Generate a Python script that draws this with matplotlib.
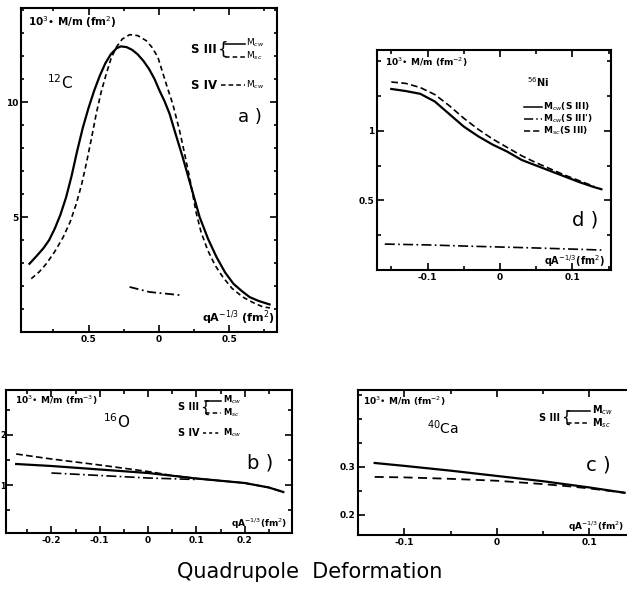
import matplotlib
matplotlib.use("Agg")
import matplotlib.pyplot as plt
from matplotlib.ticker import MultipleLocator

plt.rcParams['font.family'] = ['DejaVu Sans']

# ---------------- data ----------------
# panel a) 12C
a_cw3_x = [-0.92, -0.87, -0.82, -0.78, -0.74, -0.70, -0.66, -0.62, -0.58, -0.54, -0.50,
           -0.46, -0.42, -0.38, -0.34, -0.30, -0.27, -0.23, -0.19, -0.15, -0.11, -0.07,
           -0.03, 0.005, 0.04, 0.076, 0.12, 0.17, 0.23, 0.29, 0.35, 0.41, 0.47, 0.53, 0.59,
           0.645, 0.71, 0.787]
a_cw3_y = [2.97, 3.30, 3.65, 4.0, 4.5, 5.1, 5.85, 6.8, 7.9, 8.9, 9.75,
           10.5, 11.15, 11.7, 12.1, 12.35, 12.43, 12.4, 12.28, 12.08, 11.8, 11.45,
           11.0, 10.5, 10.05, 9.5, 8.6, 7.6, 6.3, 5.0, 4.05, 3.26, 2.6, 2.10, 1.78,
           1.52, 1.35, 1.2]
a_cw4_x = [-0.907, -0.85, -0.80, -0.74, -0.68, -0.63, -0.587, -0.55, -0.516, -0.48, -0.445,
           -0.41, -0.374, -0.34, -0.303, -0.26, -0.208, -0.15, -0.09, -0.05, -0.007, 0.052,
           0.10, 0.147, 0.18, 0.218, 0.265, 0.30, 0.348, 0.40, 0.455, 0.52, 0.597, 0.67,
           0.74, 0.79]
a_cw4_y = [2.32, 2.62, 2.97, 3.5, 4.13, 4.8, 5.58, 6.4, 7.32, 8.4, 9.5,
           10.45, 11.23, 11.9, 12.39, 12.75, 12.94, 12.9, 12.68, 12.4, 11.96, 10.8,
           9.9, 8.77, 7.85, 6.74, 5.2, 4.35, 3.55, 2.9, 2.39, 1.9, 1.52, 1.28,
           1.09, 1.05]
a_sc3_x = [-0.208, -0.066, 0.16]
a_sc3_y = [1.96, 1.74, 1.60]
a_xticks = [-0.5, 0.0, 0.5]
a_xticklabels = ["0.5", "0", "0.5"]
a_yticks = [5, 10]
a_yticklabels = ["5", "10"]

# panel d) 56Ni
d_x = [-0.15, -0.13, -0.11, -0.09, -0.07, -0.05, -0.03, -0.01, 0.01, 0.03, 0.05, 0.07, 0.09, 0.11, 0.13, 0.14]
d_cw3_y = [1.30, 1.285, 1.265, 1.21, 1.12, 1.03, 0.96, 0.90, 0.85, 0.79, 0.75, 0.71, 0.67, 0.63, 0.595, 0.58]
d_sc3_x = [-0.15, -0.13, -0.11, -0.09, -0.07, -0.05, -0.03, -0.01, 0.01, 0.03, 0.05, 0.07, 0.09, 0.11, 0.13]
d_sc3_y = [1.35, 1.34, 1.31, 1.26, 1.18, 1.09, 1.01, 0.94, 0.88, 0.82, 0.77, 0.725, 0.68, 0.64, 0.60]
d_cwp_x = [-0.159, -0.10, -0.05, 0.00, 0.05, 0.10, 0.142]
d_cwp_y = [0.186, 0.18, 0.172, 0.165, 0.158, 0.15, 0.143]
d_xticks = [-0.1, 0.0, 0.1]
d_xticklabels = ["-0.1", "0", "0.1"]
d_yticks = [0.5, 1.0]
d_yticklabels = ["0.5", "1"]

# panel b) 16O
b_cw3_x = [-0.273, -0.2, -0.1, 0.0, 0.1, 0.2, 0.25, 0.28]
b_cw3_y = [1.42, 1.38, 1.31, 1.24, 1.13, 1.04, 0.95, 0.86]
b_sc3_x = [-0.273, -0.2, -0.1, 0.0, 0.05, 0.1, 0.2, 0.25, 0.28]
b_sc3_y = [1.62, 1.52, 1.40, 1.27, 1.19, 1.13, 1.04, 0.95, 0.86]
b_cw4_x = [-0.2, -0.1, 0.0, 0.1]
b_cw4_y = [1.24, 1.19, 1.14, 1.11]
b_xticks = [-0.2, -0.1, 0.0, 0.1, 0.2]
b_xticklabels = ["-0.2", "-0.1", "0", "0.1", "0.2"]
b_yticks = [1, 2]
b_yticklabels = ["1", "2"]

# panel c) 40Ca
c_cw3_x = [-0.132, -0.1, -0.05, 0.0, 0.05, 0.1, 0.138]
c_cw3_y = [0.308, 0.302, 0.292, 0.281, 0.270, 0.257, 0.246]
c_sc3_x = [-0.132, -0.1, -0.05, 0.0, 0.05, 0.08, 0.1, 0.138]
c_sc3_y = [0.279, 0.278, 0.275, 0.271, 0.264, 0.259, 0.255, 0.246]
c_xticks = [-0.1, 0.0, 0.1]
c_xticklabels = ["-0.1", "0", "0.1"]
c_yticks = [0.2, 0.3]
c_yticklabels = ["0.2", "0.3"]

# ---------------- figure ----------------
fig = plt.figure(figsize=(6.27, 5.90), dpi=100)

LW = 1.6
SP = 1.5
TICKFS = 6.5


def style(ax):
    for s in ax.spines.values():
        s.set_linewidth(SP)
    ax.tick_params(which='both', direction='in', top=True, right=True, width=1.2,
                   labelsize=TICKFS, pad=2)
    ax.tick_params(which='major', length=5)
    ax.tick_params(which='minor', length=3)
    for lab in ax.get_xticklabels() + ax.get_yticklabels():
        lab.set_fontweight('bold')


def legend_line(ax, x0, x1, y, ls):
    ax.plot([x0, x1], [y, y], color='black', lw=1.1, ls=ls, transform=ax.transAxes, clip_on=False)


# ---- panel a ----
axa = fig.add_axes([0.0335, 0.4373, 0.4083, 0.5491])
axa.plot(a_cw3_x, a_cw3_y, color='black', lw=LW)
axa.plot(a_cw4_x, a_cw4_y, color='black', lw=1.2, ls=(0, (3, 2)))
axa.plot(a_sc3_x, a_sc3_y, color='black', lw=1.3, ls=(0, (5, 2, 1, 2)))
axa.set_xlim(-0.98, 0.84)
axa.set_ylim(0, 14.1)
axa.set_xticks(a_xticks)
axa.set_xticklabels(a_xticklabels)
axa.set_yticks(a_yticks)
axa.set_yticklabels(a_yticklabels)
axa.xaxis.set_minor_locator(MultipleLocator(0.25))
axa.yaxis.set_minor_locator(MultipleLocator(1))
style(axa)
axa.tick_params(which='minor', length=2.5)
axa.text(0.027, 0.958, "10$^3$• M/m (fm$^2$)", transform=axa.transAxes, fontsize=7.5,
         fontweight='bold', va='center')
axa.text(0.10, 0.77, "$^{12}$C", transform=axa.transAxes, fontsize=11, va='center')
axa.text(0.765, 0.872, "S III", transform=axa.transAxes, fontsize=8.5, fontweight='bold',
         va='center', ha='right')
axa.text(0.768, 0.872, "{", transform=axa.transAxes, fontsize=12, va='center')
legend_line(axa, 0.795, 0.875, 0.89, '-')
legend_line(axa, 0.795, 0.875, 0.85, (0, (3, 2)))
axa.text(0.88, 0.893, "M$_{cw}$", transform=axa.transAxes, fontsize=6.5, va='center')
axa.text(0.88, 0.852, "M$_{sc}$", transform=axa.transAxes, fontsize=6.5, va='center')
axa.text(0.765, 0.762, "S IV", transform=axa.transAxes, fontsize=8.5, fontweight='bold',
         va='center', ha='right')
legend_line(axa, 0.78, 0.875, 0.762, (0, (3, 2)))
axa.text(0.88, 0.764, "M$_{cw}$", transform=axa.transAxes, fontsize=6.5, va='center')
axa.text(0.895, 0.664, "a )", transform=axa.transAxes, fontsize=13, ha='center', va='center')
axa.text(0.99, 0.045, "qA$^{-1/3}$ (fm$^2$)", transform=axa.transAxes, fontsize=8,
         fontweight='bold', ha='right', va='center')

# ---- panel d ----
axd = fig.add_axes([0.601, 0.5424, 0.3732, 0.3729])
axd.plot(d_x, d_cw3_y, color='black', lw=LW)
axd.plot(d_sc3_x, d_sc3_y, color='black', lw=1.2, ls=(0, (4, 2)))
axd.plot(d_cwp_x, d_cwp_y, color='black', lw=1.2, ls=(0, (6, 2, 1, 2)))
axd.set_xlim(-0.17, 0.153)
axd.set_ylim(0, 1.58)
axd.set_xticks(d_xticks)
axd.set_xticklabels(d_xticklabels)
axd.set_yticks(d_yticks)
axd.set_yticklabels(d_yticklabels)
axd.xaxis.set_minor_locator(MultipleLocator(0.05))
axd.yaxis.set_minor_locator(MultipleLocator(0.25))
style(axd)
axd.text(0.034, 0.945, "10$^3$• M/m (fm$^{-2}$)", transform=axd.transAxes, fontsize=6.5,
         fontweight='bold', va='center')
axd.text(0.64, 0.855, "$^{56}$Ni", transform=axd.transAxes, fontsize=7, fontweight='bold', va='center')
legend_line(axd, 0.63, 0.705, 0.74, '-')
legend_line(axd, 0.63, 0.705, 0.686, (0, (6, 2, 1, 2)))
legend_line(axd, 0.63, 0.705, 0.632, (0, (4, 2)))
axd.text(0.71, 0.74, "M$_{cw}$(S III)", transform=axd.transAxes, fontsize=6.5, fontweight='bold', va='center')
axd.text(0.71, 0.686, "M$_{cw}$(S III')", transform=axd.transAxes, fontsize=6.5, fontweight='bold', va='center')
axd.text(0.71, 0.632, "M$_{sc}$(S III)", transform=axd.transAxes, fontsize=6.5, fontweight='bold', va='center')
axd.text(0.889, 0.227, "d )", transform=axd.transAxes, fontsize=14, ha='center', va='center')
axd.text(0.975, 0.04, "qA$^{-1/3}$(fm$^2$)", transform=axd.transAxes, fontsize=7,
         fontweight='bold', ha='right', va='center')

# ---- panel b ----
axb = fig.add_axes([0.0096, 0.0966, 0.4561, 0.2424])
axb.plot(b_cw3_x, b_cw3_y, color='black', lw=LW)
axb.plot(b_sc3_x, b_sc3_y, color='black', lw=1.2, ls=(0, (4, 2)))
axb.plot(b_cw4_x, b_cw4_y, color='black', lw=1.2, ls=(0, (6, 2, 1, 2)))
axb.set_xlim(-0.294, 0.298)
axb.set_ylim(0.04, 2.9)
axb.set_xticks(b_xticks)
axb.set_xticklabels(b_xticklabels)
axb.set_yticks(b_yticks)
axb.set_yticklabels(b_yticklabels)
axb.xaxis.set_minor_locator(MultipleLocator(0.05))
axb.yaxis.set_minor_locator(MultipleLocator(0.5))
style(axb)
axb.tick_params(axis='y', pad=0.5, labelsize=5.5)
axb.text(0.031, 0.93, "10$^3$• M/m (fm$^{-3}$)", transform=axb.transAxes, fontsize=6.5,
         fontweight='bold', va='center')
axb.text(0.34, 0.78, "$^{16}$O", transform=axb.transAxes, fontsize=11, va='center')
axb.text(0.675, 0.88, "S III", transform=axb.transAxes, fontsize=7, fontweight='bold',
         va='center', ha='right')
axb.text(0.677, 0.88, "{", transform=axb.transAxes, fontsize=11, va='center')
legend_line(axb, 0.697, 0.75, 0.925, '-')
legend_line(axb, 0.697, 0.75, 0.84, (0, (3, 2)))
axb.text(0.758, 0.93, "M$_{cw}$", transform=axb.transAxes, fontsize=6, fontweight='bold', va='center')
axb.text(0.758, 0.84, "M$_{sc}$", transform=axb.transAxes, fontsize=6, fontweight='bold', va='center')
axb.text(0.675, 0.70, "S IV", transform=axb.transAxes, fontsize=7, fontweight='bold',
         va='center', ha='right')
legend_line(axb, 0.69, 0.75, 0.70, (0, (2, 2)))
axb.text(0.758, 0.70, "M$_{cw}$", transform=axb.transAxes, fontsize=6, fontweight='bold', va='center')
axb.text(0.888, 0.49, "b )", transform=axb.transAxes, fontsize=14, ha='center', va='center')
axb.text(0.985, 0.063, "qA$^{-1/3}$(fm$^2$)", transform=axb.transAxes, fontsize=6.5,
         fontweight='bold', ha='right', va='center')

# ---- panel c ----
axc = fig.add_axes([0.571, 0.0932, 0.437, 0.2458])
axc.plot(c_cw3_x, c_cw3_y, color='black', lw=LW)
axc.plot(c_sc3_x, c_sc3_y, color='black', lw=1.3, ls=(0, (5, 3)))
axc.set_xlim(-0.15, 0.146)
axc.set_ylim(0.158, 0.46)
axc.set_xticks(c_xticks)
axc.set_xticklabels(c_xticklabels)
axc.set_yticks(c_yticks)
axc.set_yticklabels(c_yticklabels)
axc.xaxis.set_minor_locator(MultipleLocator(0.05))
axc.yaxis.set_minor_locator(MultipleLocator(0.05))
style(axc)
axc.tick_params(which='both', right=False)
axc.text(0.018, 0.924, "10$^3$• M/m (fm$^{-2}$)", transform=axc.transAxes, fontsize=6.5,
         fontweight='bold', va='center')
axc.text(0.25, 0.74, "$^{40}$Ca", transform=axc.transAxes, fontsize=10, va='center')
axc.text(0.737, 0.81, "S III", transform=axc.transAxes, fontsize=7, fontweight='bold',
         va='center', ha='right')
axc.text(0.74, 0.81, "{", transform=axc.transAxes, fontsize=11, va='center')
legend_line(axc, 0.762, 0.845, 0.855, '-')
legend_line(axc, 0.762, 0.845, 0.772, (0, (3, 2)))
axc.text(0.855, 0.858, "M$_{cw}$", transform=axc.transAxes, fontsize=7, fontweight='bold', va='center')
axc.text(0.855, 0.772, "M$_{sc}$", transform=axc.transAxes, fontsize=7, fontweight='bold', va='center')
axc.text(0.876, 0.483, "c )", transform=axc.transAxes, fontsize=14, ha='center', va='center')
axc.text(0.97, 0.058, "qA$^{-1/3}$(fm$^2$)", transform=axc.transAxes, fontsize=6.5,
         fontweight='bold', ha='right', va='center')

fig.text(0.494, 0.0305, "Quadrupole  Deformation", fontsize=15, ha='center', va='center')

fig.savefig("out.png", dpi=100)
